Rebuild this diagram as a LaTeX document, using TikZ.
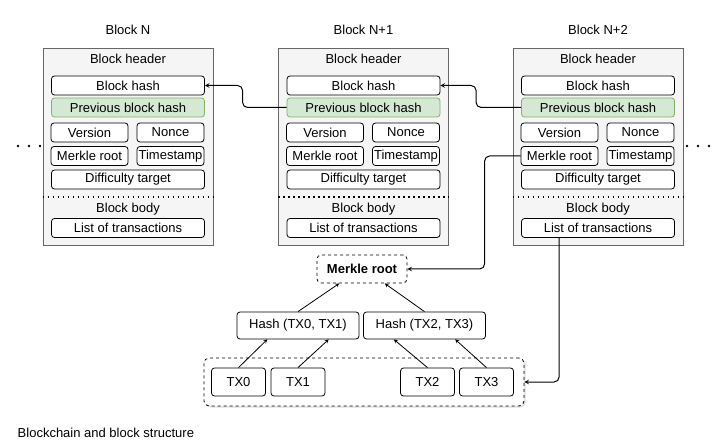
\documentclass[tikz,border=0pt]{standalone}
\usepackage{fontspec}
\setmainfont{Liberation Sans}
\usetikzlibrary{calc,shadows}
\definecolor{prevfill}{HTML}{D5E8D4}
\definecolor{prevline}{HTML}{82B366}
\tikzset{
  blk/.style={draw=black!60,fill=black!4,minimum width=170pt,minimum height=197pt,inner sep=0pt},
  field/.style={draw=black,fill=white,rounded corners=3pt,minimum width=153pt,minimum height=19pt,inner sep=0pt},
  halfl/.style={field,minimum width=77pt},
  halfr/.style={field,minimum width=67pt},
  prevfield/.style={field,draw=prevline,fill=prevfill},
  sep/.style={line width=1.4pt,dash pattern=on 1.4pt off 3.6pt},
  tx/.style={draw=black,fill=white,rounded corners=3pt,minimum width=54pt,minimum height=28pt,inner sep=0pt},
  hashbox/.style={tx,minimum width=122pt,minimum height=27pt},
  mrootbox/.style={draw=black,fill=white,dashed,rounded corners=4pt,minimum width=90pt,minimum height=28pt,inner sep=0pt,font=\fontsize{13}{15}\selectfont\bfseries},
  txgroup/.style={draw=black,fill=white,dashed,rounded corners=5pt,minimum width=320pt,minimum height=48pt,drop shadow={opacity=0.25,shadow xshift=1.5pt,shadow yshift=-1.5pt}},
  link/.style={->,>=stealth,line width=1pt,rounded corners=5pt},
  tree/.style={->,>=stealth,line width=0.8pt}
}
\begin{document}
\begin{tikzpicture}[x=1pt,y=-1pt,font=\fontsize{13}{15}\selectfont,line width=0.8pt]
\useasboundingbox (0,0) rectangle (725,446);
% Block N
\node[blk] (n0) at (128,146.5) {};
\node (n0title) at (128,30) {Block N};
\node (n0head) at (128,59) {Block header};
\node[field] (n0hash) at (128,85.5) {Block hash};
\node[prevfield] (n0prev) at (128,107.5) {Previous block hash};
\node[halfl] (n0ver) at (89.5,132.5) {Version};
\node[halfr] (n0nonce) at (170.5,132.5) {Nonce};
\node[halfl] (n0merkle) at (89.5,156) {Merkle root};
\node[halfr] (n0time) at (170.5,156) {Timestamp};
\node[field] (n0diff) at (128,179.5) {Difficulty target};
\draw[sep] ($(n0.west)+(0,50.5)$) -- ($(n0.east)+(0,50.5)$);
\node (n0body) at (128,209) {Block body};
\node[field] (n0list) at (128,228) {List of transactions};
% Block N+1
\node[blk] (n1) at (363.5,146.5) {};
\node (n1title) at (363.5,30) {Block N+1};
\node (n1head) at (363.5,59) {Block header};
\node[field] (n1hash) at (363.5,85.5) {Block hash};
\node[prevfield] (n1prev) at (363.5,107.5) {Previous block hash};
\node[halfl] (n1ver) at (325,132.5) {Version};
\node[halfr] (n1nonce) at (406,132.5) {Nonce};
\node[halfl] (n1merkle) at (325,156) {Merkle root};
\node[halfr] (n1time) at (406,156) {Timestamp};
\node[field] (n1diff) at (363.5,179.5) {Difficulty target};
\draw[sep] ($(n1.west)+(0,50.5)$) -- ($(n1.east)+(0,50.5)$);
\node (n1body) at (363.5,209) {Block body};
\node[field] (n1list) at (363.5,228) {List of transactions};
% Block N+2
\node[blk] (n2) at (598,146.5) {};
\node (n2title) at (598,30) {Block N+2};
\node (n2head) at (598,59) {Block header};
\node[field] (n2hash) at (598,85.5) {Block hash};
\node[prevfield] (n2prev) at (598,107.5) {Previous block hash};
\node[halfl] (n2ver) at (559.5,132.5) {Version};
\node[halfr] (n2nonce) at (640.5,132.5) {Nonce};
\node[halfl] (n2merkle) at (559.5,156) {Merkle root};
\node[halfr] (n2time) at (640.5,156) {Timestamp};
\node[field] (n2diff) at (598,179.5) {Difficulty target};
\draw[sep] ($(n2.west)+(0,50.5)$) -- ($(n2.east)+(0,50.5)$);
\node (n2body) at (598,209) {Block body};
\node[field] (n2list) at (598,228) {List of transactions};
% ... before and after
\fill (18,146) circle (1.4pt) (29,146) circle (1.4pt) (40,146) circle (1.4pt);
\fill (687,146) circle (1.4pt) (698,146) circle (1.4pt) (709,146) circle (1.4pt);
% Merkle tree
\node[mrootbox] (mroot) at (362,269) {Merkle root};
\node[hashbox] (h01) at (298,325.5) {Hash (TX0, TX1)};
\node[hashbox] (h23) at (424.5,325.5) {Hash (TX2, TX3)};
\node[txgroup] (txs) at (364,382) {};
\node[tx] (tx0) at (238.5,382) {TX0};
\node[tx] (tx1) at (298,382) {TX1};
\node[tx] (tx2) at (427.5,382) {TX2};
\node[tx] (tx3) at (486.5,382) {TX3};
\draw[tree] (h01.north) -- ($(mroot.south west)!0.25!(mroot.south east)$);
\draw[tree] (h23.north) -- ($(mroot.south west)!0.75!(mroot.south east)$);
\draw[tree] (tx0.north) -- ($(h01.south west)!0.25!(h01.south east)$);
\draw[tree] (tx1.north) -- ($(h01.south west)!0.75!(h01.south east)$);
\draw[tree] (tx2.north) -- ($(h23.south west)!0.25!(h23.south east)$);
\draw[tree] (tx3.north) -- ($(h23.south west)!0.75!(h23.south east)$);
% links between blocks
\draw[link] (n1prev.west) -- ++(-44,0) |- (n0hash.east);
\draw[link] (n2prev.west) -- ++(-45,0) |- (n1hash.east);
\draw[link] (n2merkle.west) -- ++(-36,0) |- (mroot.east);
\draw[link] ($(n2list.south west)+(38,0)$) |- (txs.east);
\node[anchor=west] (caption) at (14,433) {Blockchain and block structure};
\end{tikzpicture}
\end{document}
